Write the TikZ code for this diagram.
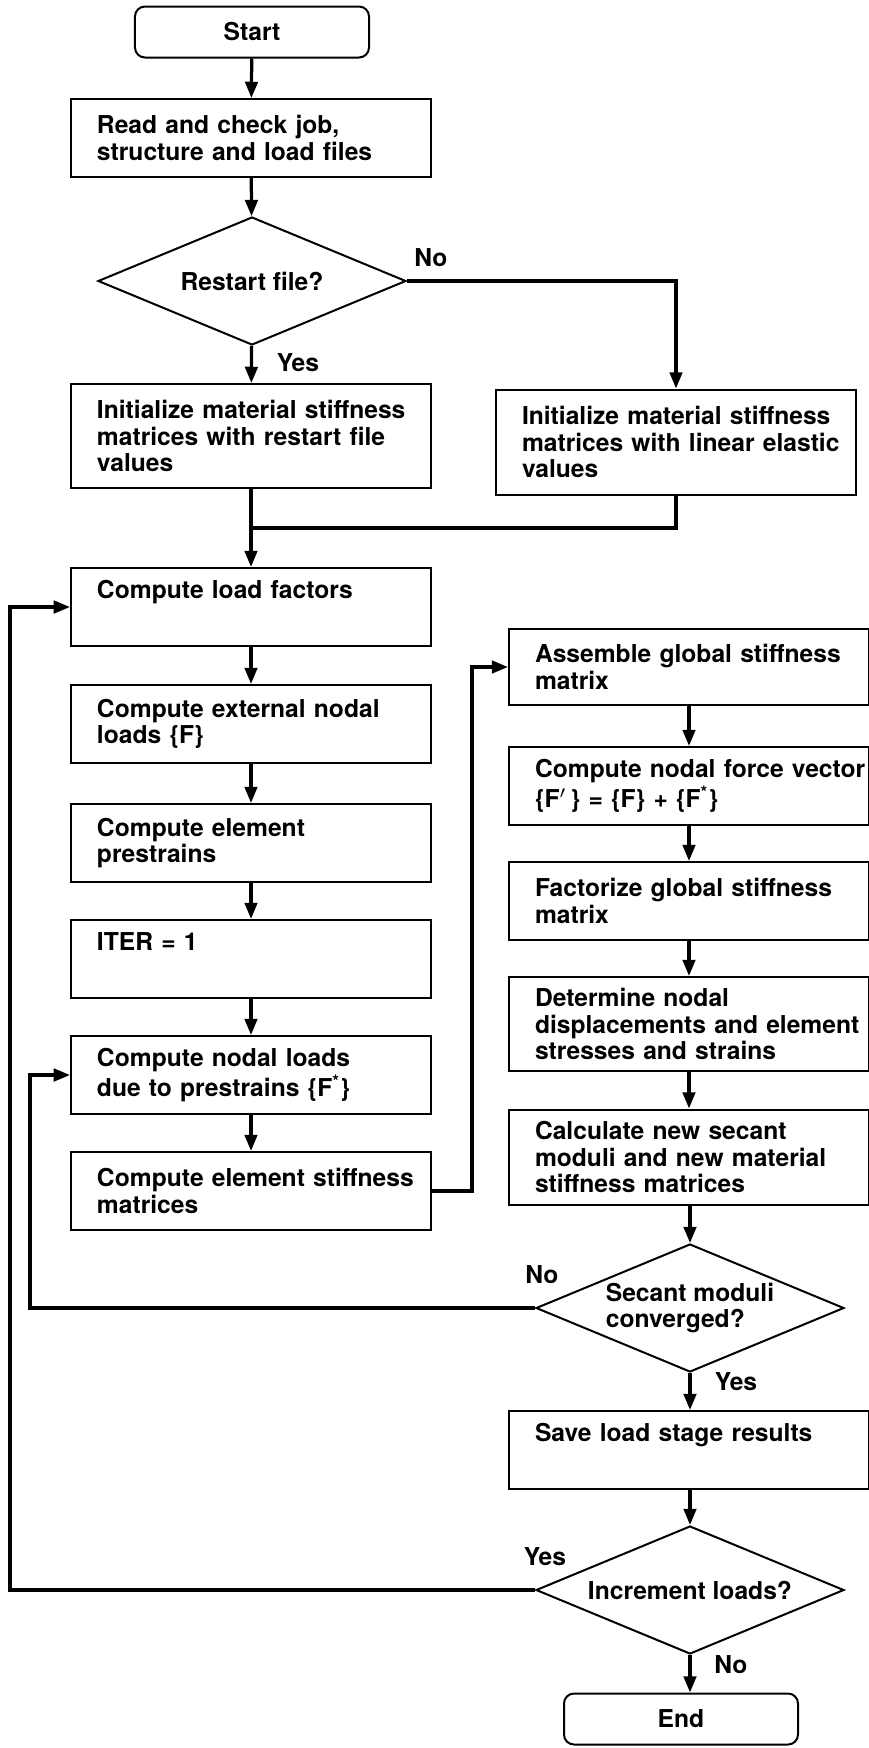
\documentclass[tikz,border=0pt]{standalone}
\usepackage{fontspec}
\setmainfont{TeX Gyre Heros}
\usetikzlibrary{shapes.geometric,arrows.meta}

\tikzset{
    process/.style={draw, line width=0.8pt, text width=144pt, inner xsep=0pt, inner ysep=0pt,
        minimum height=#1, align=left, execute at begin node={\leftskip=10.4pt}},
    process/.default=31.2pt,
    terminal/.style={draw, line width=0.8pt, rounded corners=4pt, minimum width=93.6pt,
        minimum height=20.4pt, inner sep=0pt},
    decision/.style={draw, line width=0.8pt, diamond, aspect=2.4, inner sep=0pt,
        minimum width=123.2pt, minimum height=51.2pt, align=left},
    flow/.style={line width=1.3pt, -{Triangle[length=6.5pt,width=5pt]}},
    link/.style={line width=1.3pt},
    answer/.style={inner sep=0pt},
}

\begin{document}
\begin{tikzpicture}[x=0.4pt, y=-0.4pt, font=\fontsize{9.85}{10.65}\selectfont\bfseries]
    \useasboundingbox (0, 0) rectangle (868, 1748);

    % main column
    \node[terminal] (start) at (252, 32) {Start};
    \node[process] (read) at (251, 138) {Read and check job,\\structure and load files};
    \node[decision] (restart) at (252, 281) {Restart file?};
    \node[process=41.6pt] (initL) at (251, 436) {Initialize material stiffness\\matrices with restart file\\values};
    \node[process=42pt] (initR) at (676, 442) {Initialize material stiffness\\matrices with linear elastic\\values};
    \node[process] (load) at (251, 607) {Compute load factors\\\strut};
    \node[process] (extF) at (251, 724) {Compute external nodal\\loads \{F\}};
    \node[process] (prestr) at (251, 843) {Compute element\\prestrains};
    \node[process] (iter) at (251, 959) {ITER = 1\\\strut};
    \node[process] (nodalF) at (251, 1075) {Compute nodal loads\\due to prestrains \{F\textsuperscript{*}\}};
    \node[process] (stiff) at (251, 1191) {Compute element stiffness\\matrices};

    % right column
    \node[process=30.4pt] (assemble) at (689, 667) {Assemble global stiffness\\matrix};
    \node[process] (force) at (689, 786) {\mbox{Compute nodal force vector}\\\{F$'$\,\} = \{F\} + \{F\textsuperscript{*}\}};
    \node[process] (factor) at (689, 901) {Factorize global stiffness\\matrix};
    \node[process=37.6pt] (determ) at (689, 1024) {Determine nodal\\displacements and element\\stresses and strains};
    \node[process=38pt] (calc) at (689, 1157) {Calculate new secant\\moduli and new material\\stiffness matrices};
    \node[decision] (secant) at (690, 1308) {Secant moduli\\converged?};
    \node[process] (save) at (689, 1450) {Save load stage results\\\strut};
    \node[decision] (incr) at (690, 1590) {Increment loads?};
    \node[terminal] (end) at (681, 1719) {End};

    \coordinate (merge) at (251, 528);
    \coordinate (bend) at (472, 0);
    \coordinate (loopA) at (30, 0);
    \coordinate (loopB) at (10, 0);

    \draw[flow] (start) -- (read);
    \draw[flow] (read) -- (restart);
    \draw[flow] (restart) -- (initL);
    \draw[flow] (restart.east) -| (initR.north);
    \draw[link] (initR.south) |- (merge);
    \draw[flow] (initL) -- (load);
    \draw[flow] (load) -- (extF);
    \draw[flow] (extF) -- (prestr);
    \draw[flow] (prestr) -- (iter);
    \draw[flow] (iter) -- (nodalF);
    \draw[flow] (nodalF) -- (stiff);
    \draw[flow] (stiff.east) -- (stiff.east -| bend) |- (assemble.west);
    \draw[flow] (assemble.south -| force.north) -- (force.north);
    \draw[flow] (force) -- (factor);
    \draw[flow] (factor) -- (determ);
    \draw[flow] (determ) -- (calc);
    \draw[flow] (calc.south -| secant.north) -- (secant.north);
    \draw[flow] (secant.west) -- (secant.west -| loopA) |- (nodalF.west);
    \draw[flow] (secant.south) -- (secant.south |- save.north);
    \draw[flow] (save.south -| incr.north) -- (incr.north);
    \draw[flow] (incr.west) -- (incr.west -| loopB) |- (load.west);
    \draw[flow] (incr.south) -- (incr.south |- end.north);

    \node[answer] (noA) at (431, 258) {No};
    \node[answer] (yesA) at (298, 363) {Yes};
    \node[answer] (noB) at (542, 1275) {No};
    \node[answer] (yesB) at (736, 1382) {Yes};
    \node[answer] (yesC) at (545, 1557) {Yes};
    \node[answer] (noC) at (731, 1665) {No};
\end{tikzpicture}
\end{document}
